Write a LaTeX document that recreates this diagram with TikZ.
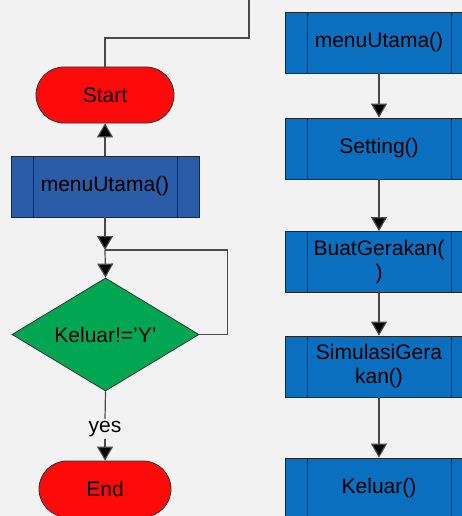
\documentclass[tikz,border=0pt]{standalone}
\usepackage{fontspec}
\setmainfont{Liberation Sans}
\usetikzlibrary{shapes.geometric,arrows.meta}
\definecolor{bgc}{HTML}{F2F2F2}
\definecolor{termred}{HTML}{FF0A0A}
\definecolor{decgreen}{HTML}{00A651}
\definecolor{leftblue}{HTML}{2B5CA7}
\definecolor{rightblue}{HTML}{0B6FC0}
\definecolor{wire}{HTML}{4A4A4A}
\tikzset{
  txt/.style={font=\fontsize{21}{24}\selectfont, text=black, align=center},
  terminal/.style={txt, rectangle, rounded corners=28pt, draw=black!80, line width=0.8pt,
    fill=termred, minimum height=56pt, inner sep=0pt},
  procbox/.style={txt, rectangle, draw=black!85, line width=0.8pt, minimum width=188pt,
    minimum height=61pt, inner sep=0pt,
    path picture={
      \draw[black!85, line width=0.8pt]
        ([xshift=22pt]path picture bounding box.north west) -- ([xshift=22pt]path picture bounding box.south west)
        ([xshift=-22pt]path picture bounding box.north east) -- ([xshift=-22pt]path picture bounding box.south east);
    }},
  decision/.style={txt, diamond, draw=black!80, line width=0.8pt, fill=decgreen,
    aspect=1.655, minimum width=187pt, minimum height=113pt, inner sep=0pt},
  wireline/.style={draw=wire, line width=1.2pt},
  arr/.style={wireline, -{Triangle[length=14pt,width=16pt,fill=black]}},
}
\begin{document}
\begin{tikzpicture}[x=1pt,y=-1pt]
  \fill[bgc] (0,0) rectangle (462,516);
  \useasboundingbox (0,0) rectangle (462,516);
  \clip (0,0) rectangle (462,516);

  % left column: main loop
  \node[terminal, minimum width=138pt] (start) at (105,95) {Start};
  \node[procbox, fill=leftblue] (m1) at (105,186.5) {menuUtama()};
  \node[decision] (dec) at (105.5,334.5) {Keluar!=’Y’};
  \node[txt, inner sep=2pt, fill=bgc] (yes) at (105,429) {yes};
  \node[terminal, minimum width=132pt] (end) at (105,489) {End};

  \coordinate (bend) at (249,38);
  \coordinate (topend) at (249,-4);
  \coordinate (junc) at (105,250);

  \draw[wireline] (start.north) |- (bend) -- (topend);
  \draw[arr] (m1.north) -- (start.south);
  \draw[arr] (m1.south) -- (junc);
  \draw[arr] (junc) -- (dec.north);
  \draw[wireline] (dec.east) -- ++(28,0) |- (junc);
  \draw[wireline] (dec.south) -- (yes.north);
  \draw[arr] (yes.south) -- (end.north);

  % right column: procedure sequence
  \node[procbox, fill=rightblue] (r1) at (379,42.5) {menuUtama()};
  \node[procbox, fill=rightblue] (r2) at (379,148.5) {Setting()};
  \node[procbox, fill=rightblue] (r3) at (379,262) {BuatGerakan(\\)};
  \node[procbox, fill=rightblue] (r4) at (379,366.5) {SimulasiGera\\kan()};
  \node[procbox, fill=rightblue] (r5) at (379,488.5) {Keluar()};

  \draw[arr] (r1.south) -- (r2.north);
  \draw[arr] (r2.south) -- (r3.north);
  \draw[arr] (r3.south) -- (r4.north);
  \draw[arr] (r4.south) -- (r5.north);
\end{tikzpicture}
\end{document}
